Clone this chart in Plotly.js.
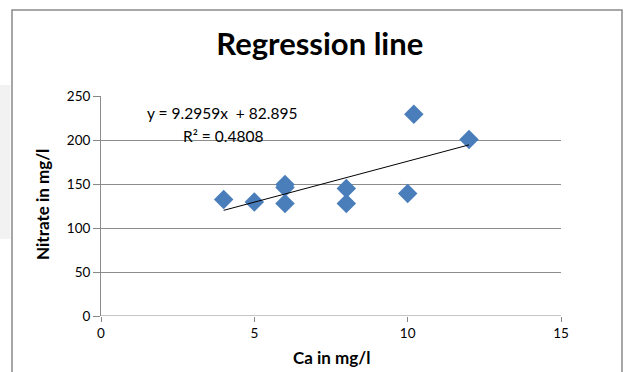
<!DOCTYPE html>
<html><head><meta charset="utf-8">
<script src="https://cdn.plot.ly/plotly-3.0.1.min.js"></script>
<style>html,body{margin:0;padding:0;background:#fff}#chart{width:627px;height:372px}</style>
</head><body><div id="chart"></div>
<script>
// Data
const caValues = [4, 5, 6, 6, 6, 8, 8, 10, 10.2, 12];
const nitrateValues = [132.5, 129.5, 149.3, 146, 127.7, 144.8, 127.7, 139.1, 229.2, 200.5];
const trendSlope = 9.2959;
const trendIntercept = 82.895;
const xTicks = [0, 5, 10, 15];
const yTicks = [0, 50, 100, 150, 200, 250];

const xMin = Math.min(...caValues), xMax = Math.max(...caValues);
const trendX = [xMin, xMax];
const trendY = trendX.map(x => trendSlope * x + trendIntercept);

const font = "Lato, 'Open Sans', sans-serif";
const data = [
  {x: caValues, y: nitrateValues, type: 'scatter', mode: 'markers',
   marker: {symbol: 'diamond', size: 15, color: '#4a7ebb', line: {width: 0}},
   cliponaxis: false, showlegend: false, hoverinfo: 'x+y'},
  {x: trendX, y: trendY, type: 'scatter', mode: 'lines',
   line: {color: '#000', width: 1}, showlegend: false}
];
const layout = {
  width: 627, height: 372,
  margin: {l: 101, r: 66, t: 96, b: 56},
  paper_bgcolor: '#fff', plot_bgcolor: '#fff',
  font: {family: font, color: '#000', size: 13},
  title: {text: '<b>Regression line</b>', font: {family: font, size: 31, color: '#000'},
          x: 0.51, xanchor: 'center', y: 0.88, yanchor: 'middle'},
  xaxis: {range: [0, 15], tickvals: xTicks, ticks: 'outside', ticklen: 5, tickcolor: '#888',
          showgrid: false, zeroline: false, showline: false,
          tickfont: {family: font, size: 13.5, color: '#000'}},
  yaxis: {range: [0, 250], tickvals: yTicks, ticks: 'outside', ticklen: 7, tickcolor: '#888',
          showgrid: true, gridcolor: '#8c8c8c', gridwidth: 1, zeroline: false,
          showline: true, linecolor: '#8c8c8c', linewidth: 1,
          tickfont: {family: font, size: 13.5, color: '#000'}},
  shapes: [
    {type: 'line', xref: 'x', yref: 'y', x0: 0, x1: 15, y0: 0, y1: 0, line: {color: '#8c8c8c', width: 1}},
    {type: 'rect', xref: 'paper', yref: 'paper', x0: -0.1935, x1: 1.1326, y0: -0.35, y1: 1.391,
     line: {color: '#8a8a8a', width: 1.5}, fillcolor: 'rgba(0,0,0,0)', layer: 'below'},
    {type: 'rect', xref: 'paper', yref: 'paper', x0: -0.2207, x1: -0.197, y0: 0.35, y1: 1.05,
     line: {width: 0}, fillcolor: '#f2f2f2', layer: 'below'}
  ],
  annotations: [
    {xref: 'x', yref: 'y', x: 1.45, y: 230.5, xanchor: 'left', yanchor: 'middle', showarrow: false,
     text: 'y = 9.2959x  + 82.895', font: {family: font, size: 15.5, color: '#000'}},
    {xref: 'x', yref: 'y', x: 2.6, y: 205, xanchor: 'left', yanchor: 'middle', showarrow: false,
     text: 'R² = 0.4808', font: {family: font, size: 15.5, color: '#000'}},
    {xref: 'paper', yref: 'paper', x: -0.126, y: 0.505, xanchor: 'center', yanchor: 'middle',
     textangle: -90, showarrow: false,
     text: '<b>Nitrate in mg/l</b>', font: {family: font, size: 17, color: '#000'}},
    {xref: 'paper', yref: 'paper', x: 0.5, y: -0.19, xanchor: 'center', yanchor: 'middle',
     showarrow: false,
     text: '<b>Ca in mg/l</b>', font: {family: font, size: 17, color: '#000'}}
  ]
};
Plotly.newPlot('chart', data, layout, {displayModeBar: false, staticPlot: true});
</script></body></html>
